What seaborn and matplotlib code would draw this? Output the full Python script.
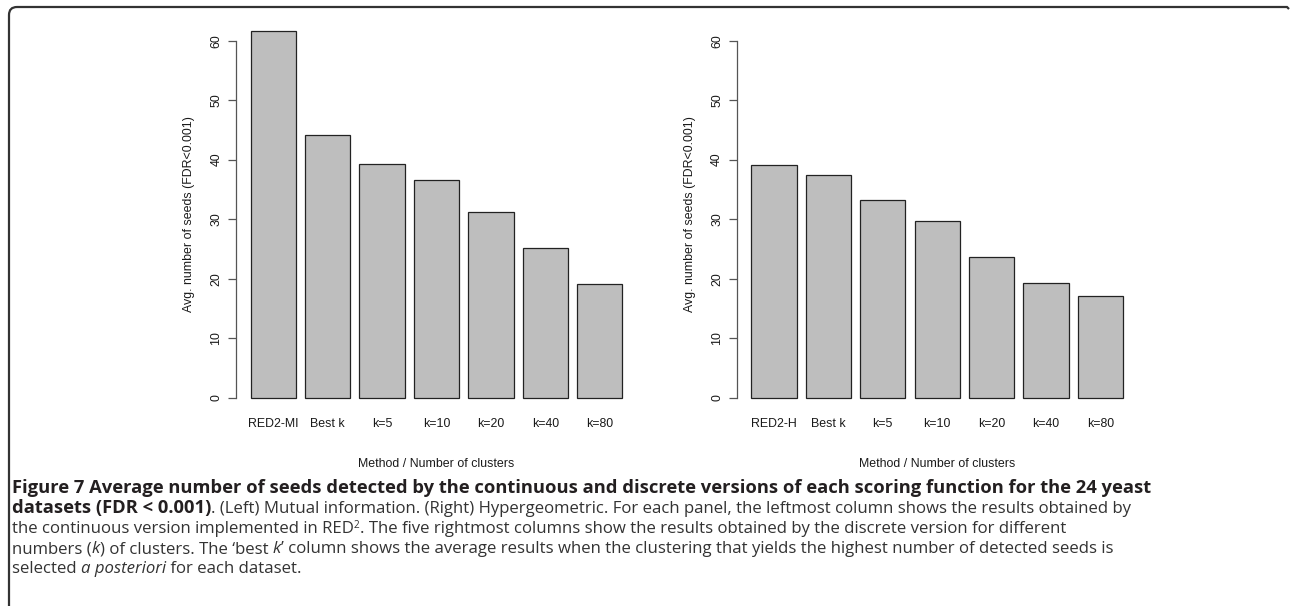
import matplotlib
matplotlib.use("Agg")
import matplotlib.pyplot as plt
import seaborn as sns
from matplotlib.transforms import IdentityTransform
from matplotlib.path import Path
from matplotlib.patches import PathPatch

# Average number of seeds detected (FDR < 0.001) per method / number of clusters
methods_mi = ["RED2-MI", "Best k", "k=5", "k=10", "k=20", "k=40", "k=80"]
seeds_mi = [61.6, 44.1, 39.2, 36.6, 31.2, 25.2, 19.1]

methods_h = ["RED2-H", "Best k", "k=5", "k=10", "k=20", "k=40", "k=80"]
seeds_h = [39.1, 37.4, 33.2, 29.7, 23.6, 19.2, 17.1]

y_ticks = [0, 10, 20, 30, 40, 50, 60]
x_title = "Method / Number of clusters"
y_title = "Avg. number of seeds (FDR<0.001)"

plt.rcParams["font.family"] = ["Liberation Sans", "DejaVu Sans"]

W, H = 1290, 608
fig = plt.figure(figsize=(W / 100, H / 100), dpi=100)


def axes_px(left, top, right, bottom):
    return fig.add_axes([left / W, 1 - bottom / H, (right - left) / W, (bottom - top) / H])


panels = [
    (axes_px(235.8, 16.5, 637.2, 412.3), methods_mi, seeds_mi),
    (axes_px(736.5, 16.5, 1137.9, 412.3), methods_h, seeds_h),
]

ink = "#1a1a1a"
axis_grey = "#555555"
fs = 8.9

for ax, labels, vals in panels:
    sns.barplot(x=labels, y=vals, color="#bebebe", saturation=1, width=1 / 1.2,
                edgecolor="#222222", linewidth=0.9, ax=ax)
    ax.set_xlim(-0.69, 6.69)
    ax.set_ylim(-2.46, 64.06)
    for side in ["top", "right", "bottom"]:
        ax.spines[side].set_visible(False)
    ax.spines["left"].set_bounds(0, 60)
    ax.spines["left"].set_color(axis_grey)
    ax.spines["left"].set_linewidth(0.9)
    ax.set_yticks(y_ticks)
    ax.set_yticklabels([str(v) for v in y_ticks])
    ax.tick_params(axis="y", left=True, length=5.8, width=0.9, color=axis_grey,
                   pad=3.9, labelsize=fs, labelcolor=ink, labelrotation=90)
    for lab in ax.get_yticklabels():
        lab.set_va("center")
    ax.tick_params(axis="x", length=0, pad=4.0, labelsize=fs, labelcolor=ink)
    ax.set_xlabel(x_title, fontsize=fs, color=ink, labelpad=20)
    ax.set_ylabel(y_title, fontsize=fs, color=ink, labelpad=11)
    ax.grid(False)

# Outline of the figure box (rounded top-left corner)
frame = Path(
    [(9, H - 606), (9, H - 15), (9, H - 7), (17, H - 7), (1287, H - 7), (1289, H - 9)],
    [Path.MOVETO, Path.LINETO, Path.CURVE3, Path.CURVE3, Path.LINETO, Path.LINETO],
)
fig.add_artist(PathPatch(frame, transform=IdentityTransform(), fill=False,
                         edgecolor="#333333", linewidth=1.6))

# Caption
cap_family = "Open Sans"
cap_dark = "#231f20"
cap_text = "#333333"

caption_lines = [
    [("Figure 7 Average number of seeds detected by the continuous and discrete versions "
      "of each scoring function for the 24 yeast", "bold")],
    [("datasets (FDR < 0.001)", "bold"),
     (". (Left) Mutual information. (Right) Hypergeometric. For each panel, the leftmost "
      "column shows the results obtained by", "normal")],
    [("the continuous version implemented in RED", "normal"), ("2", "sup"),
     (". The five rightmost columns show the results obtained by the discrete version "
      "for different", "normal")],
    [("numbers (", "normal"), ("k", "italic"),
     (") of clusters. The \u2018best ", "normal"), ("k", "italic"),
     ("\u2019 column shows the average results when the clustering that yields the "
      "highest number of detected seeds is", "normal")],
    [("selected ", "normal"), ("a posteriori", "italic"), (" for each dataset.", "normal")],
]
baselines = [493, 513, 533, 553, 573]
text_left = 12

renderer = fig.canvas.get_renderer()


def seg_kwargs(style, bold_size, body_size):
    kw = dict(family=cap_family, fontsize=body_size, color=cap_text)
    if style == "bold":
        kw.update(fontweight="bold", fontsize=bold_size, color=cap_dark)
    elif style == "italic":
        kw.update(fontstyle="italic")
    elif style == "sup":
        kw.update(fontsize=body_size * 0.6)
    return kw


def advance(text, kw):
    a = fig.text(0, 0, text + "x", transform=IdentityTransform(), **kw)
    b = fig.text(0, 0, "x", transform=IdentityTransform(), **kw)
    w = a.get_window_extent(renderer).width - b.get_window_extent(renderer).width
    a.remove()
    b.remove()
    return w


def line_width(segs, bold_size, body_size):
    return sum(advance(t, seg_kwargs(s, bold_size, body_size)) for t, s in segs)


# size the caption so its first (bold) line and its body lines span the text block
bold_size = 12 * (1152 - text_left) / line_width(caption_lines[0], 12, 12)
body_size = 12 * (1130 - text_left - line_width(caption_lines[1][:1], bold_size, 12)) \
    / line_width(caption_lines[1][1:], bold_size, 12)

for segs, base in zip(caption_lines, baselines):
    x = text_left
    for text, style in segs:
        kw = seg_kwargs(style, bold_size, body_size)
        y = H - base
        if style == "sup":
            y += body_size * 0.45
        fig.text(x, y, text, transform=IdentityTransform(), va="baseline", ha="left", **kw)
        x += advance(text, kw)

fig.savefig("out.png", dpi=100, facecolor="white")
